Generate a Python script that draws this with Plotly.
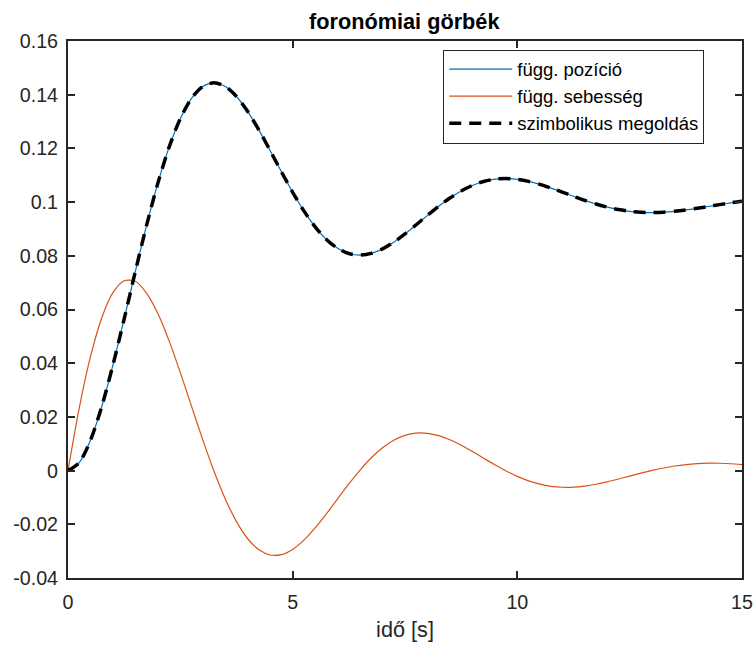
import plotly.graph_objects as go

# time samples [s]
t = [0.0, 0.25, 0.5, 0.75, 1.0, 1.25, 1.5, 1.75, 2.0, 2.25, 2.5, 2.75, 3.0, 3.25, 3.5, 3.75,
     4.0, 4.25, 4.5, 4.75, 5.0, 5.25, 5.5, 5.75, 6.0, 6.25, 6.5, 6.75, 7.0, 7.25, 7.5, 7.75,
     8.0, 8.25, 8.5, 8.75, 9.0, 9.25, 9.5, 9.75, 10.0, 10.25, 10.5, 10.75, 11.0, 11.25, 11.5,
     11.75, 12.0, 12.25, 12.5, 12.75, 13.0, 13.25, 13.5, 13.75, 14.0, 14.25, 14.5, 14.75, 15.0]

# position (numerical solution)
pozicio = [0.0, 0.00298, 0.01129, 0.02380, 0.03930, 0.05652, 0.07426, 0.09144, 0.10706,
           0.12046, 0.13108, 0.13864, 0.14306, 0.14443, 0.14305, 0.13932, 0.13372, 0.12682,
           0.11915, 0.11127, 0.10366, 0.09672, 0.09079, 0.08610, 0.08277, 0.08084, 0.08026,
           0.08090, 0.08258, 0.08508, 0.08816, 0.09157, 0.09507, 0.09845, 0.10152, 0.10414,
           0.10621, 0.10768, 0.10853, 0.10877, 0.10848, 0.10772, 0.10660, 0.10523, 0.10372,
           0.10216, 0.10066, 0.09930, 0.09814, 0.09722, 0.09658, 0.09621, 0.09610, 0.09624,
           0.09658, 0.09708, 0.09769, 0.09836, 0.09906, 0.09972, 0.10032]

# velocity (numerical solution)
sebesseg = [0.0, 0.02326, 0.04242, 0.05686, 0.06627, 0.07071, 0.07049, 0.06601, 0.05850,
            0.04831, 0.03649, 0.02393, 0.01145, -0.00024, -0.01054, -0.01901, -0.02538,
            -0.02952, -0.03144, -0.03129, -0.02935, -0.02591, -0.02136, -0.01610, -0.01051,
            -0.00497, 0.00021, 0.00477, 0.00852, 0.01133, 0.01314, 0.01398, 0.01390, 0.01301,
            0.01147, 0.00944, 0.00710, 0.00462, 0.00216, -0.00014, -0.00216, -0.00382,
            -0.00506, -0.00585, -0.00621, -0.00617, -0.00577, -0.00508, -0.00418, -0.00313,
            -0.00203, -0.00094, 0.00008, 0.00098, 0.00171, 0.00226, 0.00261, 0.00276, 0.00274,
            0.00256, 0.00225]

# position (symbolic solution)
szimbolikus = list(pozicio)

x_ticks = [0, 5, 10, 15]
y_ticks = [-0.04, -0.02, 0, 0.02, 0.04, 0.06, 0.08, 0.1, 0.12, 0.14, 0.16]
y_tick_text = ["-0.04", "-0.02", "0", "0.02", "0.04", "0.06", "0.08", "0.1", "0.12", "0.14", "0.16"]

FONT = "Liberation Sans, Arial, Helvetica, sans-serif"
AX = "#262626"

fig = go.Figure()
fig.add_trace(go.Scatter(x=t, y=pozicio, mode="lines", name="függ. pozíció",
                         line=dict(color="#0072BD", width=1.2, shape="spline", smoothing=0.8)))
fig.add_trace(go.Scatter(x=t, y=sebesseg, mode="lines", name="függ. sebesség",
                         line=dict(color="#D95319", width=1.2, shape="spline", smoothing=0.8)))
fig.add_trace(go.Scatter(x=t, y=szimbolikus, mode="lines", name="szimbolikus megoldás",
                         line=dict(color="black", width=3.5, dash="12px,8px",
                                   shape="spline", smoothing=0.8)))

axis_common = dict(showline=True, linecolor=AX, linewidth=2, mirror="ticks",
                   ticks="inside", ticklen=7, tickwidth=2, tickcolor=AX,
                   showgrid=False, zeroline=False, automargin=False,
                   tickfont=dict(family=FONT, size=19.7, color=AX))

fig.update_xaxes(range=[0, 15], tickvals=x_ticks, ticktext=[str(v) for v in x_ticks],
                 ticklabelstandoff=5,
                 title=dict(text="idő [s]", font=dict(family=FONT, size=21.7, color=AX), standoff=10),
                 **axis_common)
fig.update_yaxes(range=[-0.04, 0.16], tickvals=y_ticks, ticktext=y_tick_text,
                 ticklabelstandoff=4, **axis_common)

fig.update_layout(
    width=755, height=646,
    margin=dict(l=68, r=13, t=41, b=68),
    paper_bgcolor="white", plot_bgcolor="white",
    title=dict(text="<b>foronómiai görbék</b>", x=0.5355, xanchor="center", y=0.967, yanchor="middle",
               font=dict(family=FONT, size=21.7, color="black")),
    legend=dict(x=0.944, y=0.984, xanchor="right", yanchor="top",
                bgcolor="white", bordercolor=AX, borderwidth=1,
                font=dict(family=FONT, size=18.5, color="black"),
                tracegroupgap=0, itemwidth=63),
    showlegend=True,
)

fig.write_html("out.html")
